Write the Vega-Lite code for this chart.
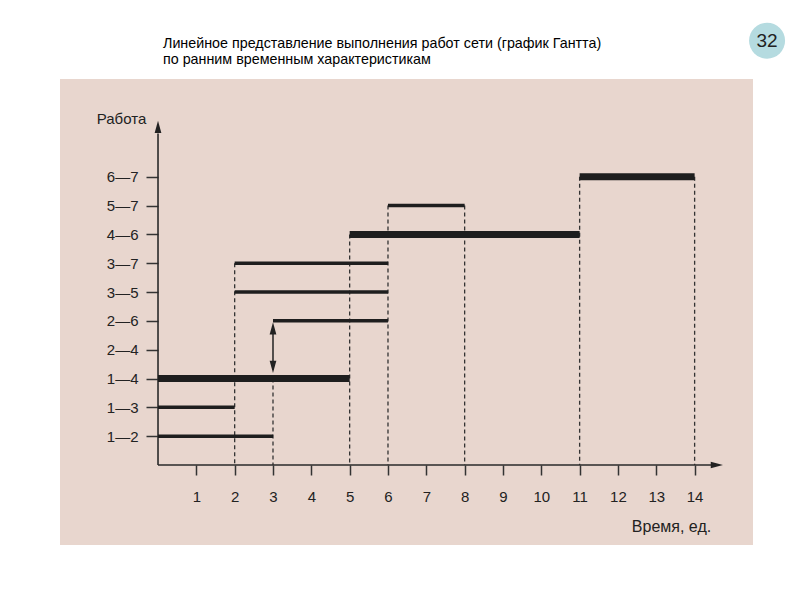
{
  "$schema": "https://vega.github.io/schema/vega-lite/v6.json",
  "autosize": {"type": "none"},
  "width": 693,
  "height": 466,
  "padding": {"left": 60, "top": 79, "right": 47, "bottom": 55},
  "background": "#ffffff",
  "config": {
    "view": {"fill": "#e8d6ce", "stroke": null},
    "font": "Liberation Sans"
  },
  "title": {
    "text": ["Линейное представление выполнения работ сети (график Гантта)", "по ранним временным характеристикам"],
    "anchor": "start",
    "frame": "group",
    "dx": 103,
    "offset": -45,
    "fontSize": 14.3,
    "fontWeight": "normal",
    "font": "Liberation Sans",
    "color": "#000000",
    "lineHeight": 16
  },
  "datasets": {
    "tasks": [
      {"work": "1—2", "idx": 1, "start": 0, "end": 3, "kind": "normal"},
      {"work": "1—3", "idx": 2, "start": 0, "end": 2, "kind": "normal"},
      {"work": "1—4", "idx": 3, "start": 0, "end": 5, "kind": "critical"},
      {"work": "2—6", "idx": 5, "start": 3, "end": 6, "kind": "normal"},
      {"work": "3—5", "idx": 6, "start": 2, "end": 6, "kind": "normal"},
      {"work": "3—7", "idx": 7, "start": 2, "end": 6, "kind": "normal"},
      {"work": "4—6", "idx": 8, "start": 5, "end": 11, "kind": "critical"},
      {"work": "5—7", "idx": 9, "start": 6, "end": 8, "kind": "normal"},
      {"work": "6—7", "idx": 10, "start": 11, "end": 14, "kind": "critical"}
    ],
    "guides": [
      {"t": 2, "top": 7},
      {"t": 3, "top": 3},
      {"t": 5, "top": 8},
      {"t": 6, "top": 9},
      {"t": 8, "top": 9},
      {"t": 11, "top": 10},
      {"t": 14, "top": 10}
    ],
    "axislines": [
      {"x": 0, "x2": 14.45, "y": 0, "y2": 0},
      {"x": 0, "x2": 0, "y": 0, "y2": 11.5}
    ],
    "link": [
      {"x": 3, "y": 3.3, "y2": 4.8}
    ],
    "heads": [
      {"x": 0, "y": 11.73, "dir": "up"},
      {"x": 14.58, "y": 0, "dir": "right"},
      {"x": 3, "y": 4.74, "dir": "up"},
      {"x": 3, "y": 3.4, "dir": "down"}
    ],
    "badge": [
      {"x": 15.89, "y": 14.72, "label": "32"}
    ]
  },
  "layer": [
    {
      "data": {"name": "guides"},
      "mark": {"type": "rule", "color": "#333333", "strokeWidth": 1.3, "strokeDash": [4, 3]},
      "encoding": {
        "x": {
          "field": "t", "type": "quantitative",
          "scale": {"domain": [-2.557, 15.523], "nice": false, "zero": false},
          "axis": {
            "values": [1, 2, 3, 4, 5, 6, 7, 8, 9, 10, 11, 12, 13, 14],
            "domain": false, "grid": false, "offset": -80,
            "tickSize": 10, "tickWidth": 1.5, "tickColor": "#333333",
            "labelFontSize": 15, "labelColor": "#222222", "labelPadding": 14,
            "labelFont": "Liberation Sans",
            "title": "Время, ед.", "titleX": 611, "titleY": 61, "titleAngle": 0,
            "titleAlign": "center", "titleBaseline": "middle",
            "titleFontSize": 16, "titleFontWeight": "normal", "titleColor": "#222222",
            "titleFont": "Liberation Sans"
          }
        },
        "y": {
          "field": "top", "type": "quantitative",
          "scale": {"domain": [-2.775, 13.39], "nice": false, "zero": false},
          "axis": {
            "values": [1, 2, 3, 4, 5, 6, 7, 8, 9, 10],
            "labelExpr": "['','1—2','1—3','1—4','2—4','2—6','3—5','3—7','4—6','5—7','6—7'][datum.value]",
            "domain": false, "grid": false, "offset": -98,
            "tickSize": 12, "tickWidth": 1.5, "tickColor": "#333333",
            "labelFontSize": 15, "labelColor": "#222222", "labelPadding": 8,
            "labelFont": "Liberation Sans",
            "title": "Работа", "titleX": -37, "titleY": 39, "titleAngle": 0,
            "titleAlign": "center", "titleBaseline": "middle",
            "titleFontSize": 15, "titleFontWeight": "normal", "titleColor": "#222222",
            "titleFont": "Liberation Sans"
          }
        },
        "y2": {"datum": 0}
      }
    },
    {
      "data": {"name": "axislines"},
      "mark": {"type": "rule", "color": "#2a2a2a", "strokeWidth": 1.6},
      "encoding": {
        "x": {"field": "x", "type": "quantitative"},
        "x2": {"field": "x2"},
        "y": {"field": "y", "type": "quantitative"},
        "y2": {"field": "y2"}
      }
    },
    {
      "data": {"name": "link"},
      "mark": {"type": "rule", "color": "#222222", "strokeWidth": 1.5},
      "encoding": {
        "x": {"field": "x", "type": "quantitative"},
        "y": {"field": "y", "type": "quantitative"},
        "y2": {"field": "y2"}
      }
    },
    {
      "data": {"name": "tasks"},
      "mark": {"type": "rule", "color": "#1e1e1e"},
      "encoding": {
        "x": {"field": "start", "type": "quantitative"},
        "x2": {"field": "end"},
        "y": {"field": "idx", "type": "quantitative"},
        "strokeWidth": {
          "field": "kind", "type": "nominal",
          "scale": {"domain": ["critical", "normal"], "range": [7, 3.5]},
          "legend": null
        }
      }
    },
    {
      "data": {"name": "heads"},
      "mark": {"type": "point", "filled": true, "color": "#222222", "opacity": 1, "size": 150, "strokeWidth": 0},
      "encoding": {
        "x": {"field": "x", "type": "quantitative"},
        "y": {"field": "y", "type": "quantitative"},
        "shape": {
          "field": "dir", "type": "nominal",
          "scale": {"domain": ["up", "down", "right"], "range": ["M0,-1L0.55,1L-0.55,1Z", "M0,1L0.55,-1L-0.55,-1Z", "M1,0L-1,0.55L-1,-0.55Z"]},
          "legend": null
        }
      }
    },
    {
      "data": {"name": "badge"},
      "mark": {"type": "point", "filled": true, "color": "#b5dbe0", "opacity": 1, "size": 1296, "shape": "circle", "strokeWidth": 0},
      "encoding": {
        "x": {"field": "x", "type": "quantitative"},
        "y": {"field": "y", "type": "quantitative"}
      }
    },
    {
      "data": {"name": "badge"},
      "mark": {"type": "text", "fontSize": 19, "color": "#222222", "font": "Liberation Sans", "align": "center", "baseline": "middle"},
      "encoding": {
        "x": {"field": "x", "type": "quantitative"},
        "y": {"field": "y", "type": "quantitative"},
        "text": {"field": "label"}
      }
    }
  ]
}
